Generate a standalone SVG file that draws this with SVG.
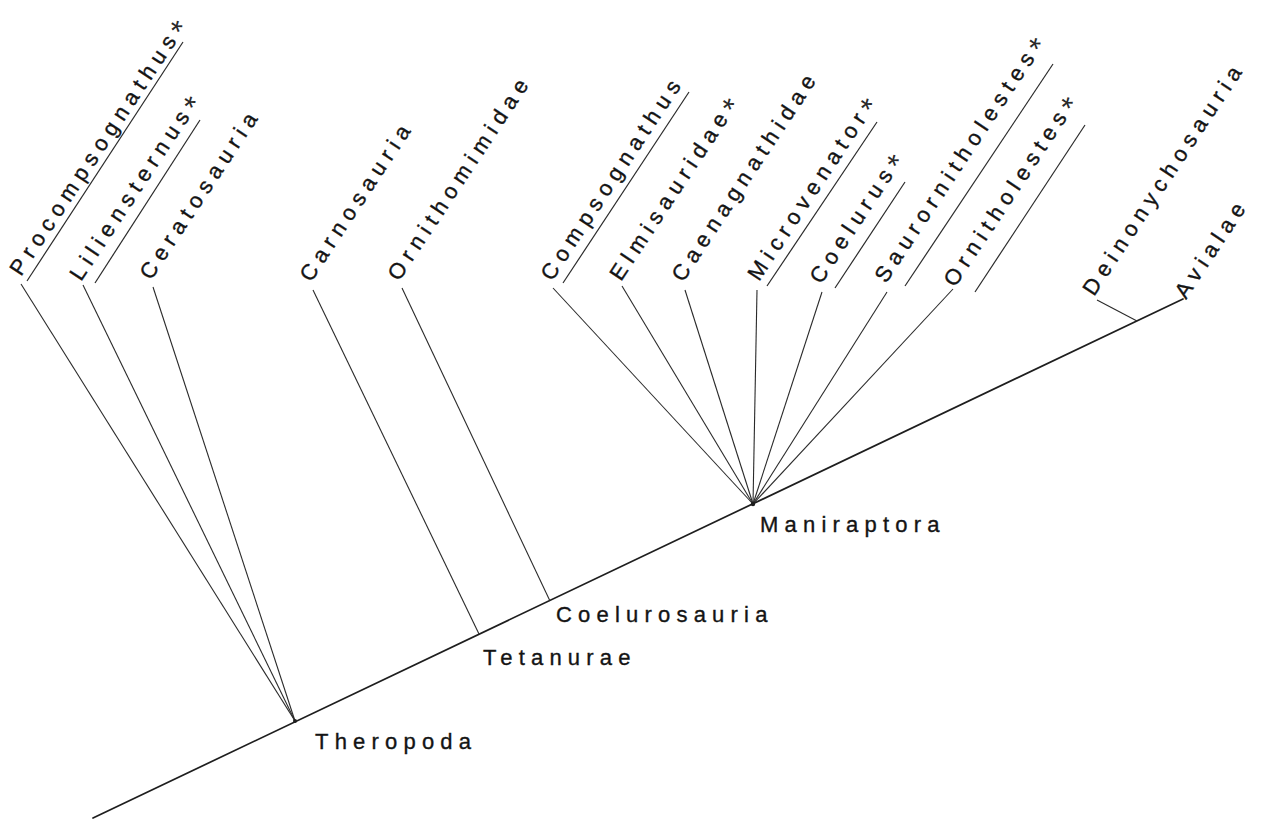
<svg xmlns="http://www.w3.org/2000/svg" width="1263" height="824" viewBox="0 0 1263 824">
<style>
  .lbl { font-family: "Liberation Sans", Arial, sans-serif; font-size: 22px; letter-spacing: 6.2px; fill: #141414; stroke: #141414; stroke-width: 0.35px; }
  .ast { font-size: 31px; letter-spacing: 0; stroke-width: 0; fill: #2a2a2a; }
  .axis { stroke: #1e1e1e; stroke-width: 1.7; fill: none; stroke-linecap: round; }
  .br { stroke: #2a2a2a; stroke-width: 1.1; fill: none; }
  .ul { stroke: #2a2a2a; stroke-width: 1.2; fill: none; }
</style>
<rect width="1263" height="824" fill="#ffffff"/>

<g id="connectors">
  <line class="axis" x1="93" y1="818" x2="1183" y2="299"/>
  <line class="br" x1="21" y1="284" x2="295" y2="721"/>
  <line class="br" x1="83" y1="285" x2="295" y2="721"/>
  <line class="br" x1="153" y1="287" x2="295" y2="721"/>
  <line class="br" x1="313" y1="290" x2="479" y2="634"/>
  <line class="br" x1="402" y1="288" x2="550" y2="601"/>
  <line class="br" x1="553" y1="288" x2="753" y2="504"/>
  <line class="br" x1="622" y1="286" x2="753" y2="504"/>
  <line class="br" x1="685" y1="290" x2="753" y2="504"/>
  <line class="br" x1="757" y1="290" x2="753" y2="504"/>
  <line class="br" x1="822" y1="292" x2="753" y2="504"/>
  <line class="br" x1="887" y1="292" x2="753" y2="504"/>
  <line class="br" x1="953" y1="289" x2="753" y2="504"/>
  <line class="br" stroke-width="1.5" x1="1097" y1="300" x2="1137" y2="321"/>
  <circle cx="295" cy="721" r="2" fill="#1e1e1e"/>
  <circle cx="753" cy="504" r="2.2" fill="#1e1e1e"/>
</g>

<g id="Procompsognathus">
  <text class="lbl" transform="translate(21,277) rotate(-56.5)">Procompsognathus<tspan class="ast" dy="7">*</tspan></text>
  <line class="ul" x1="27" y1="281" x2="183" y2="42"/>
</g>
<g id="Liliensternus">
  <text class="lbl" transform="translate(81,282) rotate(-56.5)">Liliensternus<tspan class="ast" dy="7">*</tspan></text>
  <line class="ul" x1="95" y1="283" x2="200" y2="120"/>
</g>
<g id="Ceratosauria">
  <text class="lbl" transform="translate(151,281) rotate(-56.5)">Ceratosauria</text>
</g>
<g id="Carnosauria">
  <text class="lbl" transform="translate(311,283) rotate(-56.5)">Carnosauria</text>
</g>
<g id="Ornithomimidae">
  <text class="lbl" transform="translate(399,282) rotate(-56.5)">Ornithomimidae</text>
</g>
<g id="Compsognathus">
  <text class="lbl" transform="translate(552,282) rotate(-56.5)">Compsognathus</text>
  <line class="ul" x1="563" y1="283" x2="689" y2="92"/>
</g>
<g id="Elmisauridae">
  <text class="lbl" transform="translate(621,282) rotate(-56.5)">Elmisauridae<tspan class="ast" dy="7">*</tspan></text>
</g>
<g id="Caenagnathidae">
  <text class="lbl" transform="translate(683,283) rotate(-56.5)">Caenagnathidae</text>
</g>
<g id="Microvenator">
  <text class="lbl" transform="translate(759,282) rotate(-56.5)">Microvenator<tspan class="ast" dy="7">*</tspan></text>
  <line class="ul" x1="767" y1="286" x2="877" y2="122"/>
</g>
<g id="Coelurus">
  <text class="lbl" transform="translate(821,285) rotate(-56.5)">Coelurus<tspan class="ast" dy="7">*</tspan></text>
  <line class="ul" x1="835" y1="288" x2="905" y2="182"/>
</g>
<g id="Saurornitholestes">
  <text class="lbl" transform="translate(886,284) rotate(-56.5)">Saurornitholestes<tspan class="ast" dy="7">*</tspan></text>
  <line class="ul" x1="905" y1="286" x2="1053" y2="64"/>
</g>
<g id="Ornitholestes">
  <text class="lbl" transform="translate(955,288) rotate(-56.5)">Ornitholestes<tspan class="ast" dy="7">*</tspan></text>
  <line class="ul" x1="975" y1="292" x2="1085" y2="125"/>
</g>
<g id="Deinonychosauria">
  <text class="lbl" transform="translate(1094,297) rotate(-56.5)">Deinonychosauria</text>
</g>
<g id="Avialae">
  <text class="lbl" transform="translate(1186,300) rotate(-56.5)">Avialae</text>
</g>

<g id="Theropoda"><text class="lbl" x="315" y="749">Theropoda</text></g>
<g id="Tetanurae"><text class="lbl" x="483" y="665">Tetanurae</text></g>
<g id="Coelurosauria"><text class="lbl" x="556" y="622">Coelurosauria</text></g>
<g id="Maniraptora"><text class="lbl" x="760" y="532">Maniraptora</text></g>
</svg>
